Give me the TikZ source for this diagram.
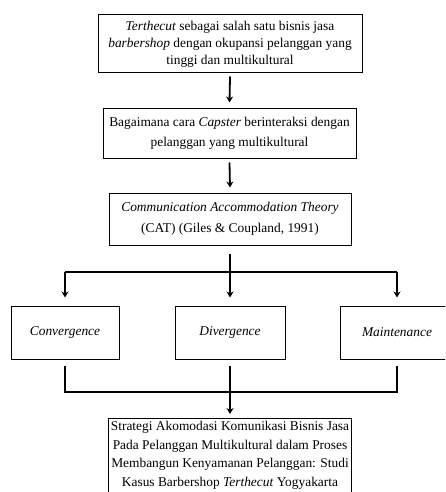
\documentclass[tikz,border=0pt]{standalone}
\usepackage{fontspec}
\setmainfont{Liberation Serif}
\usetikzlibrary{arrows.meta}
\tikzset{
  box/.style={draw, line width=1pt, align=center, inner sep=0pt, font=\fontsize{13.4}{17}\selectfont},
  link/.style={line width=1.8pt},
  arr/.style={line width=1.8pt, -{Stealth[length=6pt,width=7pt]}}
}
\begin{document}
\begin{tikzpicture}[x=1pt,y=-1pt]
\useasboundingbox (0,0) rectangle (445,492);
\clip (0,0) rectangle (445,492);
\node[box, minimum width=264pt, minimum height=58pt] (b1) at (230,44)
  {\textit{Terthecut} sebagai salah satu bisnis jasa\\ \textit{barbershop} dengan okupansi pelanggan yang\\ tinggi dan multikultural};
\node[box, minimum width=253pt, minimum height=49pt, font=\fontsize{13.4}{20.5}\selectfont] (b2) at (229.5,133.5)
  {Bagaimana cara \textit{Capster} berinteraksi dengan\\ pelanggan yang multikultural};
\node[box, minimum width=242pt, minimum height=52pt, font=\fontsize{13.4}{21.5}\selectfont] (b3) at (230,219)
  {\textit{Communication Accommodation Theory}\\ (CAT) (Giles \& Coupland, 1991)};
\node[box, minimum width=108pt, minimum height=53pt] (c1) at (65,332.5) {\textit{Convergence}};
\node[box, minimum width=110pt, minimum height=53pt] (c2) at (230,332.5) {\textit{Divergence}};
\node[box, minimum width=114pt, minimum height=53pt] (c3) at (397,332.5) {\textit{Maintenance}};
\node[box, draw=none, anchor=north, minimum width=242pt, inner ysep=2.5pt, font=\fontsize{13.4}{18.8}\selectfont] (b4) at (230,418)
  {Strategi Akomodasi Komunikasi Bisnis Jasa\\ Pada Pelanggan Multikultural dalam Proses\\ Membangun Kenyamanan Pelanggan: Studi\\ Kasus Barbershop \textit{Terthecut} Yogyakarta};
\draw[line width=1pt] ([yshift=-20pt]b4.south west) -- (b4.north west) -- (b4.north east) -- ([yshift=-20pt]b4.south east);
% arrows between main boxes
\draw[arr] ([yshift=-3pt]b1.south) -- ([yshift=6pt]b2.north);
\draw[arr] ([yshift=-4pt]b2.south) -- ([yshift=5pt]b3.north);
% branch
\coordinate (s) at ([yshift=-8pt]b3.south);
\coordinate (hl) at (c1.north |- 0,272);
\coordinate (hr) at (c3.north |- 0,272);
\draw[link] (hl) -- (hr);
\draw[arr] (s) -- ([yshift=8pt]c2.north);
\draw[arr] (hl) -- ([yshift=8pt]c1.north);
\draw[arr] (hr) -- ([yshift=8pt]c3.north);
% merge
\coordinate (ml) at (c1.south |- 0,392);
\coordinate (mr) at (c3.south |- 0,392);
\draw[link] ([yshift=-6pt]c1.south) -- (ml) -- (mr) -- ([yshift=-6pt]c3.south);
\draw[arr] ([yshift=-6pt]c2.south) -- ([yshift=4pt]b4.north);
\end{tikzpicture}
\end{document}
